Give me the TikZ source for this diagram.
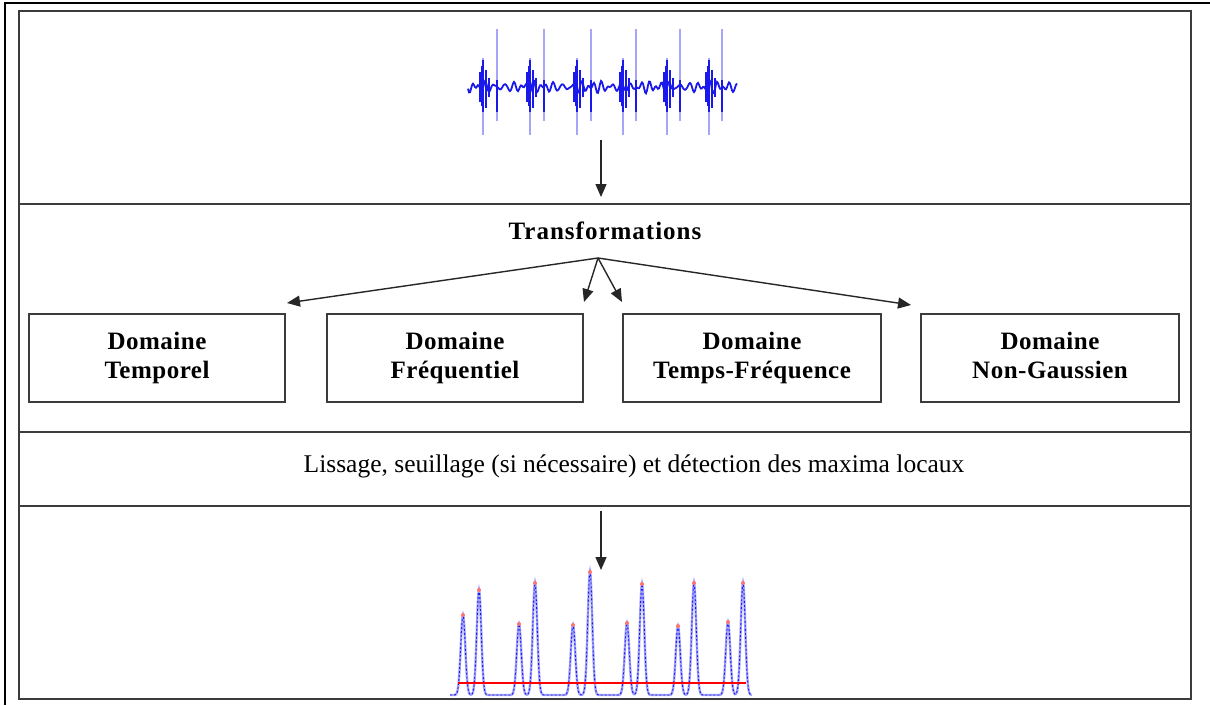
\documentclass[tikz,border=0pt]{standalone}
\usepackage{fontspec}
\setmainfont{Liberation Serif}
\usetikzlibrary{arrows.meta}
\definecolor{sigdark}{RGB}{25,25,235}
\definecolor{sigpale}{RGB}{165,165,250}
\definecolor{framegray}{RGB}{60,60,60}
\begin{document}
\begin{tikzpicture}[x=1pt,y=-1pt,
  frame/.style={draw=framegray,line width=2pt},
  dombox/.style={draw=framegray,line width=1.8pt,minimum height=88pt,align=center,
    font=\fontsize{25}{29}\selectfont\bfseries\addfontfeature{LetterSpace=2},inner sep=0pt},
  arr/.style={draw=black!85,line width=1.4pt,-{Triangle[length=13pt,width=11pt]}},
  dark/.style={draw=sigdark,line width=1.3pt},
  pale/.style={draw=sigpale,line width=1.6pt}]
\useasboundingbox (0,0) rectangle (1210,705);
% outer and inner frames
\draw[black,line width=1.2pt] (5,705) -- (5,3) -- (1210,3);
\draw[frame] (19,10.5) rectangle (1191,699);
\draw[frame] (19,204) -- (1191,204);
\draw[frame] (19,432) -- (1191,432);
\draw[frame] (19,506) -- (1191,506);
% top signal
\foreach \s in {497,544,591,636,680,722}{
  \draw[pale] (\s,29) -- (\s,121);
  \draw[dark] (\s,80) -- (\s,112);
}
\foreach \b in {483,530,577,623,667,709}{
  \draw[pale,line width=2pt] (\b,58) -- (\b,135);
  \draw[dark] (\b,60) -- (\b,112);
  \draw[dark] (\b-3,72) -- (\b-3,102);
  \draw[dark] (\b-1.5,66) -- (\b-1.5,106);
  \draw[dark] (\b+3,70) -- (\b+3,108);
  \draw[dark] (\b+6,78) -- (\b+6,97);
}
\draw[dark,line width=1.8pt] plot[domain=468:737,samples=270]
  (\x,{87+3*sin((\x-468)*37)+2.2*sin((\x-468)*53+40)+1.5*sin((\x-468)*59+10)});
% arrow to transformations
\coordinate (sigout) at (601,140);
\coordinate (trin) at (601,197);
\draw[arr] (sigout) -- (trin);
% Transformations
\node[font=\fontsize{25}{29}\selectfont\bfseries\addfontfeature{LetterSpace=4}] (trans) at (605,231) {Transformations};
\coordinate (apex) at (598,258);
\node[dombox,minimum width=256pt] (d1) at (157,358) {Domaine\strut\\Temporel\strut};
\node[dombox,minimum width=256pt] (d2) at (455,358) {Domaine\strut\\Fréquentiel\strut};
\node[dombox,minimum width=258pt] (d3) at (752,358) {Domaine\strut\\Temps-Fréquence\strut};
\node[dombox,minimum width=258pt] (d4) at (1050,358) {Domaine\strut\\Non-Gaussien\strut};
\coordinate (t1) at (287,303);
\coordinate (t2) at (584,302);
\coordinate (t3) at (622,302);
\coordinate (t4) at (911,305);
\draw[arr] (apex) -- (t1);
\draw[arr] (apex) -- (t2);
\draw[arr] (apex) -- (t3);
\draw[arr] (apex) -- (t4);
% Lissage
\node[font=\fontsize{25.5}{29}\selectfont] (liss) at (634,466) {Lissage, seuillage (si nécessaire) et détection des maxima locaux};
% arrow to output
\coordinate (lout) at (601,511);
\coordinate (pin) at (601,570);
\draw[arr] (lout) -- (pin);
% output peaks
\def\peaks{695-80*exp(-((\x-463)/3.2)^2)-105*exp(-((\x-479)/3.2)^2)
   -71*exp(-((\x-519)/3.2)^2)-112*exp(-((\x-535)/3.2)^2)
   -70*exp(-((\x-573)/3.2)^2)-123*exp(-((\x-590)/3.2)^2)
   -72*exp(-((\x-627)/3.2)^2)-111*exp(-((\x-642)/3.2)^2)
   -69*exp(-((\x-678)/3.2)^2)-112*exp(-((\x-694)/3.2)^2)
   -73*exp(-((\x-728)/3.2)^2)-112*exp(-((\x-743)/3.2)^2)}
\draw[pale,line width=2.4pt] plot[domain=450:752,samples=605] (\x,{\peaks});
\draw[dark,line width=0.9pt,dash pattern=on 2pt off 2pt] plot[domain=450:752,samples=605] (\x,{\peaks});
\foreach \c/\t in {463/615,479/590,519/624,535/583,573/625,590/572,627/623,642/584,678/626,694/583,728/622,743/583}{
  \fill[red!55] (\c,\t) circle (2pt);
}
\draw[red,line width=1.6pt] (458,683) -- (746,683);
\end{tikzpicture}
\end{document}
